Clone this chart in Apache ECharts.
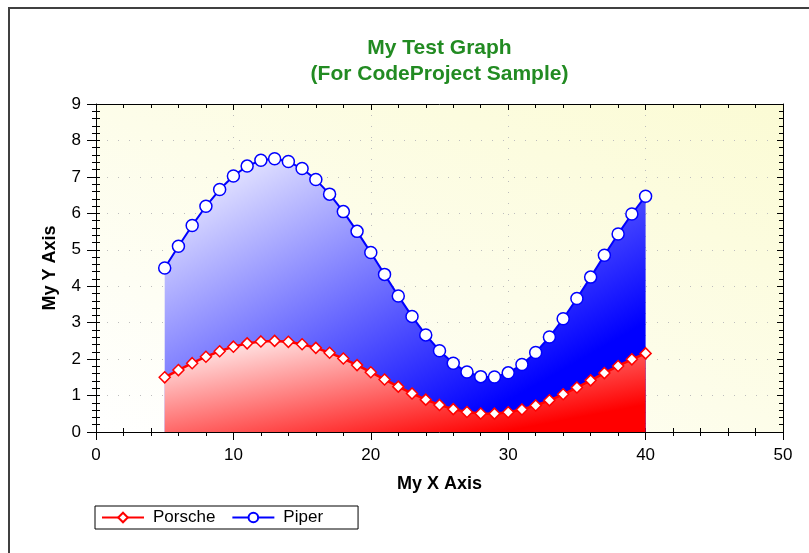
<!DOCTYPE html>
<html>
<head>
<meta charset="utf-8">
<script src="https://cdn.jsdelivr.net/npm/echarts@6/dist/echarts.min.js"></script>
<style>
html,body{margin:0;padding:0;background:#fff;}
#chart{width:809px;height:553px;}
</style>
</head>
<body>
<div id="chart"></div>
<script>
// ---- data ----
const titleLines = ['My Test Graph', '(For CodeProject Sample)'];
const xTitle = 'My X Axis';
const yTitle = 'My Y Axis';
const seriesNames = ['Porsche', 'Piper'];
const xValues = [5, 6, 7, 8, 9, 10, 11, 12, 13, 14, 15, 16, 17, 18, 19, 20, 21, 22, 23, 24,
  25, 26, 27, 28, 29, 30, 31, 32, 33, 34, 35, 36, 37, 38, 39, 40];
const porscheValues = [1.500, 1.699, 1.889, 2.065, 2.217, 2.341, 2.432, 2.485, 2.500, 2.474,
  2.409, 2.309, 2.176, 2.016, 1.835, 1.641, 1.442, 1.245, 1.057, 0.888,
  0.743, 0.628, 0.548, 0.506, 0.504, 0.541, 0.617, 0.727, 0.869, 1.035,
  1.221, 1.417, 1.617, 1.812, 1.994, 2.157];
const piperValues = [4.500, 5.097, 5.668, 6.194, 6.652, 7.024, 7.296, 7.456, 7.499, 7.421,
  7.228, 6.926, 6.527, 6.047, 5.505, 4.923, 4.325, 3.734, 3.172, 2.664,
  2.230, 1.885, 1.645, 1.519, 1.511, 1.623, 1.850, 2.182, 2.606, 3.106,
  3.662, 4.250, 4.850, 5.435, 5.982, 6.471];
const xRange = [0, 50, 10];
const yRange = [0, 9, 1];

// ---- chart ----
const chart = echarts.init(document.getElementById('chart'), null, {renderer: 'canvas'});
const FONT = '"Liberation Sans", Arial, sans-serif';
const pair = (ys) => xValues.map((x, i) => [x, ys[i]]);

const tickLine = {color: '#000', width: 1};
function xAxisBase(extra) {
  return Object.assign({
    type: 'value', min: xRange[0], max: xRange[1], interval: xRange[2],
    axisLine: {show: false}, axisLabel: {show: false}, splitLine: {show: false},
    axisTick: {show: false}, minorTick: {show: false}, minorSplitLine: {show: false}
  }, extra);
}
function yAxisBase(extra) {
  return Object.assign({
    type: 'value', min: yRange[0], max: yRange[1], interval: yRange[2],
    axisLine: {show: false}, axisLabel: {show: false}, splitLine: {show: false},
    axisTick: {show: false}, minorTick: {show: false}, minorSplitLine: {show: false}
  }, extra);
}

const option = {
  animation: false,
  backgroundColor: '#ffffff',
  title: {
    text: titleLines.join('\n'),
    left: 439.5, top: 35, padding: 0,
    textAlign: 'center',
    textStyle: {fontFamily: FONT, fontSize: 21, fontWeight: 'bold', color: '#228B22', lineHeight: 26}
  },
  graphic: [{
    type: 'rect', silent: true,
    shape: {x: 9, y: 8, width: 820, height: 570},
    style: {fill: 'none', stroke: '#404040', lineWidth: 2}
  }],
  legend: {
    left: 95, top: 506,
    orient: 'horizontal',
    data: seriesNames,
    itemWidth: 42, itemHeight: 12, itemGap: 16,
    padding: [3, 35, 3, 6],
    borderColor: '#000', borderWidth: 1,
    textStyle: {fontFamily: FONT, fontSize: 17, color: '#000', padding: [0, 0, 0, 4]}
  },
  grid: {
    left: 96, right: 26, top: 104, bottom: 121,
    show: true, borderWidth: 0,
    backgroundColor: '#fefef0'
  },
  xAxis: [
    xAxisBase({
      position: 'bottom',
      name: xTitle, nameLocation: 'middle', nameGap: 43,
      nameTextStyle: {fontFamily: FONT, fontSize: 18, fontWeight: 'bold', color: '#000'},
      axisLine: {show: true, onZero: false, lineStyle: tickLine},
      axisTick: {show: true, inside: false, length: 8, lineStyle: tickLine},
      minorTick: {show: true, splitNumber: 5, length: 4, lineStyle: tickLine},
      axisLabel: {show: true, margin: 15, fontFamily: FONT, fontSize: 17, color: '#000'},
      splitLine: {show: true, lineStyle: {color: '#bdbdbd', type: [1, 10], width: 1}}
    }),
    xAxisBase({
      position: 'bottom',
      axisTick: {show: true, inside: true, length: 4, lineStyle: tickLine},
      minorTick: {show: true, splitNumber: 5, length: 4, lineStyle: tickLine}
    }),
    xAxisBase({
      position: 'top',
      axisLine: {show: true, onZero: false, lineStyle: tickLine},
      axisTick: {show: true, inside: true, length: 6, lineStyle: tickLine},
      minorTick: {show: true, splitNumber: 5, length: 4, lineStyle: tickLine}
    })
  ],
  yAxis: [
    yAxisBase({
      position: 'left',
      name: yTitle, nameLocation: 'middle', nameGap: 37, nameRotate: 90,
      nameTextStyle: {fontFamily: FONT, fontSize: 18, fontWeight: 'bold', color: '#000'},
      axisLine: {show: true, onZero: false, lineStyle: tickLine},
      axisTick: {show: true, inside: false, length: 9, lineStyle: tickLine},
      minorTick: {show: true, splitNumber: 5, length: 4, lineStyle: tickLine},
      axisLabel: {show: true, margin: 15, fontFamily: FONT, fontSize: 17, color: '#000'},
      splitLine: {show: true, lineStyle: {color: '#bdbdbd', type: [1, 10], width: 1}}
    }),
    yAxisBase({
      position: 'left',
      axisTick: {show: true, inside: true, length: 4, lineStyle: tickLine},
      minorTick: {show: true, splitNumber: 5, length: 4, lineStyle: tickLine}
    }),
    yAxisBase({
      position: 'right',
      axisLine: {show: true, onZero: false, lineStyle: tickLine},
      axisTick: {show: true, inside: true, length: 6, lineStyle: tickLine},
      minorTick: {show: true, splitNumber: 5, length: 4, lineStyle: tickLine}
    })
  ],
  series: [
    {
      name: seriesNames[1], type: 'line', xAxisIndex: 0, yAxisIndex: 0, z: 2,
      data: pair(piperValues),
      symbol: 'circle', symbolSize: 12, showAllSymbol: true,
      itemStyle: {color: '#ffffff', borderColor: '#0000ff', borderWidth: 1.5},
      lineStyle: {color: '#0000ff', width: 2},
      areaStyle: {origin: 'start', opacity: 1, color: '#8080ff'}
    },
    {
      name: seriesNames[0], type: 'line', xAxisIndex: 0, yAxisIndex: 0, z: 3,
      data: pair(porscheValues),
      symbol: 'diamond', symbolSize: 11, showAllSymbol: true,
      itemStyle: {color: '#ffffff', borderColor: '#ff0000', borderWidth: 1.5},
      lineStyle: {color: '#ff0000', width: 2.5},
      areaStyle: {origin: 'start', opacity: 1, color: '#ff8080'}
    }
  ]
};
chart.setOption(option);

// Gradients: "scaled 45°" fill over a pixel rectangle, i.e. colour bands run
// parallel to the rectangle's anti-diagonal (corner to corner).
function diagGradient(x0, y0, x1, y1, stops, fromBottom) {
  const w = x1 - x0, h = y1 - y0;
  const a = 2 * w * h / (w * w + h * h);
  if (fromBottom) {
    return new echarts.graphic.LinearGradient(x0, y1, x0 + a * h, y1 - a * w, stops, true);
  }
  return new echarts.graphic.LinearGradient(x0, y0, x0 + a * h, y0 + a * w, stops, true);
}
const px = (x, y) => chart.convertToPixel({xAxisIndex: 0, yAxisIndex: 0}, [x, y]);
const xMin = Math.min.apply(null, xValues), xMax = Math.max.apply(null, xValues);
function areaGrad(values, stops) {
  const tl = px(xMin, Math.max.apply(null, values));
  const br = px(xMax, yRange[0]);
  return diagGradient(tl[0], tl[1], br[0], br[1], stops, false);
}
const gTL = px(xRange[0], yRange[1]);
const gBR = px(xRange[1], yRange[0]);
chart.setOption({
  grid: {
    backgroundColor: diagGradient(gTL[0], gTL[1], gBR[0], gBR[1],
      [{offset: 0, color: '#ffffff'}, {offset: 1, color: '#fbfbd4'}], true)
  },
  series: [
    {areaStyle: {color: areaGrad(piperValues,
      [{offset: 0, color: '#ffffff'}, {offset: 0.8, color: '#0000ff'}, {offset: 1, color: '#0000ff'}])}},
    {areaStyle: {color: areaGrad(porscheValues,
      [{offset: 0, color: '#ffffff'}, {offset: 0.85, color: '#ff0000'}, {offset: 1, color: '#ff0000'}])}}
  ]
});
</script>
</body>
</html>
